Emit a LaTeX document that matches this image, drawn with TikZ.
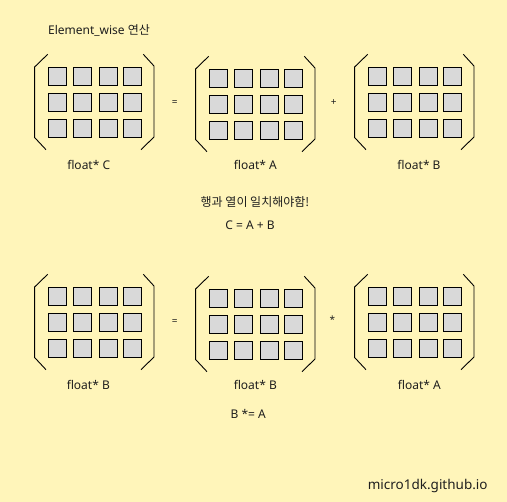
\documentclass[tikz,border=0pt]{standalone}
\usepackage{fontspec}
\setmainfont{Noto Sans}
\newfontfamily\kofont{Noto Sans CJK KR}
\definecolor{bgyellow}{HTML}{FFF5BA}
\definecolor{cellgray}{HTML}{D9D9D9}
\definecolor{ink}{HTML}{1E1E1E}
\tikzset{
  cellbox/.style={draw=black, fill=cellgray, line width=1pt},
  bracketline/.style={draw=black, line width=0.9pt},
  lbl/.style={inner sep=0pt, text=ink, font=\fontsize{12}{14}\selectfont},
  oplbl/.style={inner sep=0pt, text=ink, font=\fontsize{10}{12}\selectfont},
}
\newcommand{\drawmatrix}[3]{%
  \begin{scope}[shift={(#1,#2)}]
    \coordinate (#3) at (94,102);
    \draw[bracketline] (47.7,54.3) -- (34.6,67) -- (34.6,137.5) -- (46,149.7);
    \draw[bracketline] (143.3,54.3) -- (154,66) -- (154,137) -- (141,149.7);
    \foreach \cx in {48.3,73.3,99.3,123.3}{
      \foreach \cy in {67.3,93.3,120}{
        \draw[cellbox] (\cx,\cy) rectangle ++(18,18);
      }
    }
  \end{scope}
}
\begin{document}
\begin{tikzpicture}[x=1pt,y=-1pt]
  \fill[bgyellow] (0,0) rectangle (507,502);
  \useasboundingbox (0,0) rectangle (507,502);

  \node[lbl] (title) at (99,30) {Element\_wise {\kofont 연산}};

  \drawmatrix{0}{0}{mC}
  \drawmatrix{161}{2}{mA}
  \drawmatrix{320}{0}{mB}

  \node[oplbl] (eq1) at (174.7,102.7) {=};
  \node[oplbl] (plus1) at (333.7,102.3) {+};

  \node[lbl] (labC) at (88.7,164.5) {float* C};
  \node[lbl] (labA) at (255.3,165) {float* A};
  \node[lbl] (labB) at (419,165) {float* B};

  \node[lbl] (rule) at (255,202.3) {\kofont 행과 열이 일치해야함!};
  \node[lbl] (eqn1) at (250,225) {C = A + B};

  \drawmatrix{0}{220}{mB2}
  \drawmatrix{161}{222}{mB3}
  \drawmatrix{320}{220}{mA2}

  \node[oplbl] (eq2) at (174.7,322) {=};
  \node[oplbl] (star2) at (332.3,320) {*};

  \node[lbl] (labB2) at (88.3,385) {float* B};
  \node[lbl] (labB3) at (255.3,385) {float* B};
  \node[lbl] (labA2) at (419.3,385) {float* A};

  \node[lbl] (eqn2) at (248.3,414.3) {B *= A};

  \node[inner sep=0pt, text=ink, font=\fontsize{13.5}{16}\selectfont] (site) at (427.7,485.7) {micro1dk.github.io};
\end{tikzpicture}
\end{document}
